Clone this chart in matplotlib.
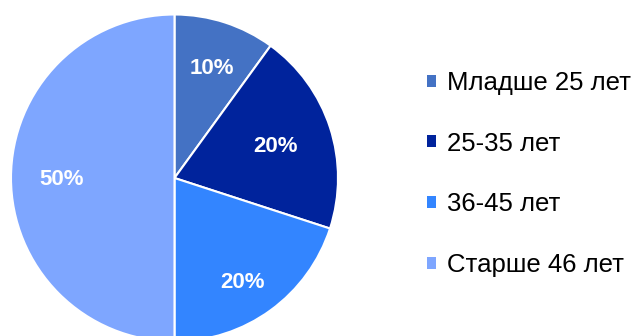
import numpy as np
import matplotlib.pyplot as plt
from matplotlib.patches import Patch

# age groups and their shares (%)
age_groups = ["Младше 25 лет", "25-35 лет", "36-45 лет", "Старше 46 лет"]
shares = [10, 20, 20, 50]
colors = ["#4472C4", "#00239C", "#3385FF", "#7EA6FF"]

# placement of each percentage label: radius fraction and angle offset (deg)
label_dist = [0.71, 0.65, 0.76, 0.69]
label_turn = [-1, -0.5, -3, 1]

plt.rcParams['font.family'] = ['Liberation Sans', 'DejaVu Sans']

fig = plt.figure(figsize=(6.42, 3.36), dpi=100)

# pie sits at the left, centre ~(174.5, 178) px, radius ~163.5 px
r_px = 163.5
cx, cy = 174.5, 178
W, H = 642, 336
ax = fig.add_axes([(cx - r_px) / W, (H - cy - r_px) / H, 2 * r_px / W, 2 * r_px / H])

wedges, texts, autotexts = ax.pie(
    shares, colors=colors, startangle=90, counterclock=False,
    autopct='%d%%', pctdistance=0.70, radius=1.0,
    wedgeprops=dict(edgecolor='white', linewidth=1.5),
    textprops=dict(color='white', fontsize=16, fontweight='bold'))

# nudge labels along each wedge's bisector
for w, t, d, turn in zip(wedges, autotexts, label_dist, label_turn):
    ang = np.deg2rad((w.theta1 + w.theta2) / 2 + turn)
    t.set_position((d * np.cos(ang), d * np.sin(ang)))

ax.set_xlim(-1, 1)
ax.set_ylim(-1, 1)
ax.set_aspect('auto')
ax.axis('off')

handles = [Patch(facecolor=c, edgecolor='none') for c in colors]
fig.legend(handles, age_groups, loc='center left', bbox_to_anchor=(427 / W, 1 - 174 / H),
           frameon=False, fontsize=18.5, handlelength=0.35, handleheight=0.35,
           handletextpad=0.43, labelspacing=1.43, borderpad=0, borderaxespad=0)

fig.savefig("out.png", dpi=100)
